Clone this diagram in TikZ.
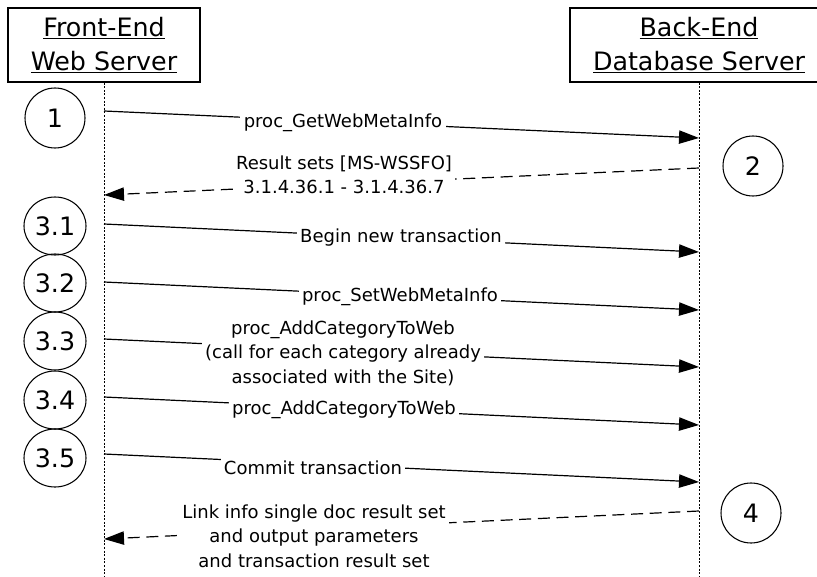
\documentclass[tikz,border=0pt]{standalone}
\usepackage{fontspec}
\setmainfont{DejaVu Sans}
\usetikzlibrary{arrows.meta,shapes.geometric}
\begin{document}
\begin{tikzpicture}[x=0.75pt,y=-0.75pt,
  hdr/.style={draw, rectangle, line width=0.9pt, inner sep=0pt, align=center,
    minimum width=144pt, minimum height=55.5pt, font=\fontsize{19}{25.5}\selectfont},
  life/.style={line width=0.75pt, dash pattern=on 1.5pt off 1.2pt},
  numc/.style={draw, circle, line width=0.8pt, inner sep=0pt, minimum size=45pt,
    font=\fontsize{19}{22}\selectfont},
  nume/.style={draw, ellipse, line width=0.8pt, inner sep=0pt, minimum width=46.5pt,
    minimum height=43.5pt, font=\fontsize{19}{22}\selectfont},
  msg/.style={line width=0.9pt, -{Triangle[length=15pt,width=10pt]}},
  ret/.style={msg, dash pattern=on 9pt off 5pt},
  lbl/.style={fill=white, inner sep=2.5pt, align=center, font=\fontsize{13.5}{18.4}\selectfont}]
\clip (0,0) rectangle (817,577);

% headers
\node[hdr] (fe) at (104,45) {\underline{Front-End}\\\underline{Web Server}};
\node[hdr, minimum width=193.5pt] (be) at (699,45) {\underline{Back-End}\\\underline{Database Server}};

% lifelines
\coordinate (fbot) at (104,580);
\coordinate (bbot) at (699,580);
\draw[life] (fe.south) -- (fbot);
\draw[life] (be.south) -- (bbot);

% step markers
\node[numc] (c1) at (55,118) {1};
\node[numc] (c2) at (753,166) {2};
\node[nume] (c31) at (55,226) {3.1};
\node[nume] (c32) at (55,283) {3.2};
\node[nume] (c33) at (55,341) {3.3};
\node[nume] (c34) at (55,400) {3.4};
\node[nume] (c35) at (55,458) {3.5};
\node[numc] (c4) at (751,513) {4};

% message end points on the lifelines
\coordinate (f1) at (104,111);  \coordinate (b1) at (699,138);
\coordinate (b2) at (699,168);  \coordinate (f2) at (104,195);
\coordinate (f31) at (104,224); \coordinate (b31) at (699,252);
\coordinate (f32) at (104,282); \coordinate (b32) at (699,310);
\coordinate (f33) at (104,339); \coordinate (b33) at (699,367);
\coordinate (f34) at (104,397); \coordinate (b34) at (699,425);
\coordinate (f35) at (104,454); \coordinate (b35) at (699,482);
\coordinate (b4) at (699,511);  \coordinate (f4) at (104,539);

% messages
\draw[msg] (f1) -- (b1);
\draw[ret] (b2) -- (f2);
\draw[msg] (f31) -- (b31);
\draw[msg] (f32) -- (b32);
\draw[msg] (f33) -- (b33);
\draw[msg] (f34) -- (b34);
\draw[msg] (f35) -- (b35);
\draw[ret] (b4) -- (f4);

% labels
\node[lbl] (l1) at (343,123) {proc\_GetWebMetaInfo};
\node[lbl] (l2) at (344,175) {Result sets [MS-WSSFO]\\3.1.4.36.1 - 3.1.4.36.7};
\node[lbl] (l31) at (401,238) {Begin new transaction};
\node[lbl] (l32) at (400,297) {proc\_SetWebMetaInfo};
\node[lbl] (l33) at (343,353) {proc\_AddCategoryToWeb\\(call for each category already\\associated with the Site)};
\node[lbl] (l34) at (344,410) {proc\_AddCategoryToWeb};
\node[lbl] (l35) at (313,468) {Commit transaction};
\node[lbl] (l4) at (314,536) {Link info single doc result set\\and output parameters\\and transaction result set};
\end{tikzpicture}
\end{document}
